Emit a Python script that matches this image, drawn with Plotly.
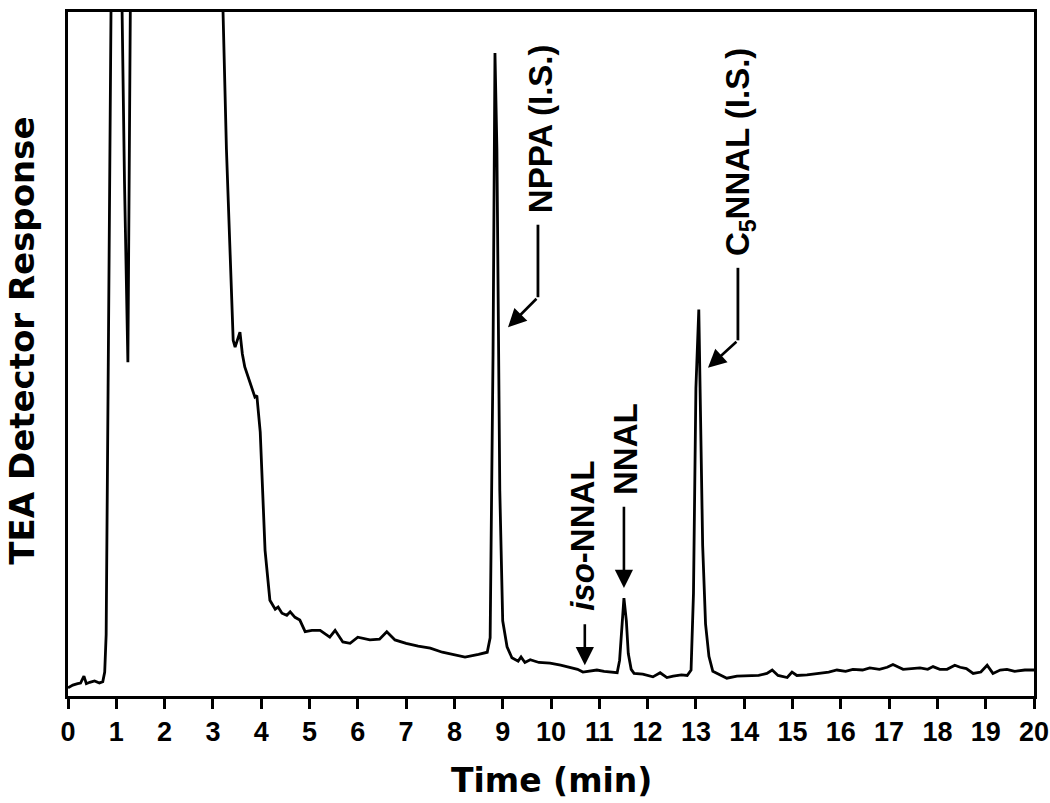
import plotly.graph_objects as go

# Chromatogram trace (time in min, response in % of plot height)
time_min = [
    0.00, 0.10, 0.20, 0.26, 0.33, 0.38, 0.45, 0.55, 0.65, 0.72, 0.76, 0.79, 0.83, 0.87, 0.91,
    1.00, 1.08, 1.12, 1.17, 1.24, 1.26, 1.29, 1.35, 2.00, 3.00, 3.21, 3.28, 3.35, 3.42, 3.46,
    3.52, 3.56, 3.61, 3.66, 3.77, 3.87, 3.91, 3.98, 4.08, 4.18, 4.29, 4.35, 4.43, 4.53, 4.60,
    4.70, 4.80, 4.91, 5.05, 5.22, 5.42, 5.53, 5.69, 5.84, 6.00, 6.25, 6.45, 6.60, 6.77, 7.00,
    7.25, 7.50, 7.75, 8.00, 8.22, 8.50, 8.68, 8.74, 8.80, 8.84, 8.88, 8.94, 9.00, 9.09, 9.19,
    9.32, 9.38, 9.46, 9.57, 9.75, 9.98, 10.20, 10.39, 10.55, 10.66, 10.80, 10.95, 11.10, 11.22,
    11.37, 11.42, 11.46, 11.51, 11.56, 11.60, 11.66, 11.72, 11.90, 12.11, 12.26, 12.40, 12.53,
    12.70, 12.82, 12.90, 12.95, 13.00, 13.06, 13.10, 13.14, 13.20, 13.27, 13.35, 13.44, 13.64,
    13.85, 14.06, 14.30, 14.47, 14.58, 14.70, 14.89, 14.99, 15.09, 15.30, 15.57, 15.75, 15.92,
    16.10, 16.25, 16.45, 16.60, 16.80, 16.96, 17.08, 17.29, 17.50, 17.64, 17.80, 17.91, 18.05,
    18.20, 18.36, 18.47, 18.60, 18.74, 18.90, 19.03, 19.15, 19.30, 19.44, 19.60, 19.81, 20.00,
]
response = [
    1.2, 1.6, 1.8, 1.9, 2.9, 1.8, 2.0, 2.2, 1.9, 2.1, 3.5, 9.0, 45.0, 88.0, 118.0,
    135.0, 115.0, 100.0, 75.0, 48.8, 70.0, 100.0, 125.0, 140.0, 125.0, 100.0, 80.0, 65.4, 52.0, 51.0,
    52.5, 53.2, 50.0, 48.1, 45.8, 43.7, 43.9, 38.6, 21.3, 14.0, 12.7, 13.0, 12.1, 11.8, 12.3,
    11.5, 11.1, 9.4, 9.6, 9.6, 8.6, 9.6, 7.9, 7.7, 8.6, 8.2, 8.3, 9.4, 8.2, 7.7,
    7.3, 7.0, 6.4, 6.0, 5.7, 6.1, 6.4, 8.5, 50.0, 94.0, 80.0, 30.0, 11.0, 7.2, 5.6,
    5.1, 5.7, 4.9, 5.3, 4.9, 4.8, 4.5, 4.2, 3.9, 3.5, 3.6, 3.8, 3.6, 3.5,
    3.4, 5.2, 10.0, 14.3, 11.0, 6.2, 3.9, 3.3, 3.2, 2.8, 3.4, 2.7, 2.9,
    3.1, 3.0, 3.8, 15.0, 45.0, 56.5, 42.0, 22.0, 10.5, 5.8, 3.6, 3.3, 2.6,
    2.9, 2.9, 3.0, 3.3, 3.8, 3.0, 2.7, 3.5, 3.0, 3.1, 3.3, 3.5, 3.8,
    3.6, 3.9, 3.8, 4.1, 3.9, 4.2, 4.6, 3.9, 4.0, 4.1, 3.9, 4.3, 3.9,
    3.9, 4.5, 4.2, 4.0, 3.3, 3.5, 4.5, 3.3, 3.8, 3.9, 3.6, 3.8, 3.8,
]

x_ticks = list(range(0, 21))

LABEL_FONT = dict(family="Liberation Sans, Arial", size=33, color="black", weight="bold")
TITLE_FONT = dict(family="DejaVu Sans", color="black", weight="bold")

fig = go.Figure()

fig.add_trace(go.Scatter(
    x=time_min, y=response,
    mode="lines",
    line=dict(color="black", width=2.8),
    showlegend=False,
    hoverinfo="skip",
))

# Peak labels (rotated text)
peak_labels = [
    dict(text="NPPA (I.S.)", x=9.77, y=83.0),
    dict(text="C<sub>5</sub>NNAL (I.S.)", x=13.91, y=79.5),
    dict(text="NNAL", x=11.53, y=36.1),
    dict(text="<i>iso</i>-NNAL", x=10.66, y=23.4),
]
for lab in peak_labels:
    fig.add_annotation(
        x=lab["x"], y=lab["y"], xref="x", yref="y",
        text=lab["text"], textangle=-90, showarrow=False,
        xanchor="center", yanchor="middle", font=LABEL_FONT,
    )

# Bent connectors: vertical segment then diagonal arrow
bent = [
    dict(x=9.73, y0=68.9, y1=58.3, tx=9.11, ty=53.9),
    dict(x=13.87, y0=62.6, y1=52.0, tx=13.25, ty=48.0),
]
for b in bent:
    fig.add_shape(type="line", xref="x", yref="y",
                  x0=b["x"], x1=b["x"], y0=b["y0"], y1=b["y1"],
                  line=dict(color="black", width=2.8))
    fig.add_annotation(
        x=b["tx"], y=b["ty"], ax=b["x"], ay=b["y1"],
        xref="x", yref="y", axref="x", ayref="y",
        text="", showarrow=True, arrowhead=2, arrowsize=1.4,
        arrowwidth=2.6, arrowcolor="black",
    )

# Straight down arrows
straight = [
    dict(x=11.51, y0=27.9, y1=15.8),
    dict(x=10.70, y0=10.7, y1=4.5),
]
for s in straight:
    fig.add_annotation(
        x=s["x"], y=s["y1"], ax=s["x"], ay=s["y0"],
        xref="x", yref="y", axref="x", ayref="y",
        text="", showarrow=True, arrowhead=2, arrowsize=1.4,
        arrowwidth=2.6, arrowcolor="black",
    )

# Axis titles
fig.add_annotation(
    x=0.501, y=-0.124, xref="paper", yref="paper",
    text="Time (min)", showarrow=False, xanchor="center", yanchor="middle",
    font=dict(size=33, **TITLE_FONT),
)
fig.add_annotation(
    x=-0.048, y=0.519, xref="paper", yref="paper",
    text="TEA Detector Response", textangle=-90, showarrow=False,
    xanchor="center", yanchor="middle",
    font=dict(size=34, **TITLE_FONT),
)

fig.update_layout(
    width=1050, height=803,
    margin=dict(l=68, r=16, t=12, b=107, autoexpand=False),
    paper_bgcolor="white", plot_bgcolor="white",
    xaxis=dict(
        range=[0, 20], tickmode="array", tickvals=x_ticks,
        ticks="outside", ticklen=10, tickwidth=2.5, tickcolor="black",
        showline=True, linecolor="black", linewidth=2.5, mirror=True,
        showgrid=False, zeroline=False,
        tickfont=dict(family="Liberation Sans, Arial", size=27, color="black", weight="bold"),
    ),
    yaxis=dict(
        range=[0, 100], showticklabels=False, ticks="",
        showline=True, linecolor="black", linewidth=2.5, mirror=True,
        showgrid=False, zeroline=False,
    ),
)

# drop the default page margin so the 1050x803 figure fills the window exactly
fig.write_html("out.html", config={"displayModeBar": False},
               post_script="document.body.style.margin='0';")
